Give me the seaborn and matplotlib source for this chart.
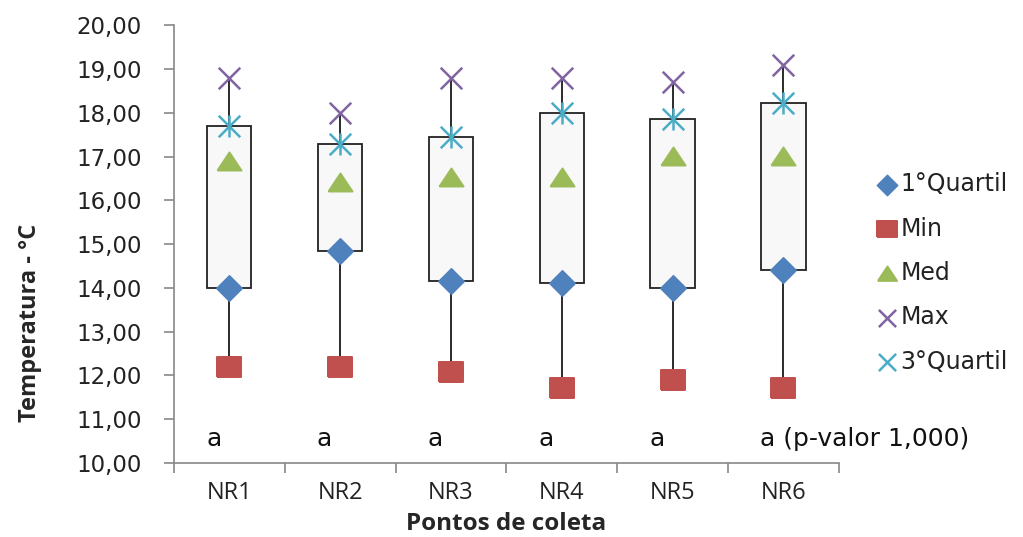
import matplotlib
matplotlib.use("Agg")
import matplotlib.pyplot as plt
import seaborn as sns
import numpy as np
import pandas as pd
from matplotlib.ticker import FixedLocator

# Sampling points and summary statistics of temperature (°C)
pontos = ["NR1", "NR2", "NR3", "NR4", "NR5", "NR6"]
quartil1 = [14.00, 14.85, 14.15, 14.10, 14.00, 14.40]
minimo = [12.20, 12.20, 12.08, 11.70, 11.90, 11.70]
mediana = [16.87, 16.40, 16.50, 16.50, 16.98, 17.00]
maximo = [18.80, 18.00, 18.80, 18.80, 18.70, 19.10]
quartil3 = [17.70, 17.28, 17.45, 18.00, 17.85, 18.22]
letras = ["a", "a", "a", "a", "a", "a (p-valor 1,000)"]
yticks = [10, 11, 12, 13, 14, 15, 16, 17, 18, 19, 20]
ytick_labels = ["10,00", "11,00", "12,00", "13,00", "14,00", "15,00",
                "16,00", "17,00", "18,00", "19,00", "20,00"]

sns.set_theme(style="white")
plt.rcParams["font.family"] = ["DejaVu Sans"]

fig = plt.figure(figsize=(10.23, 5.37), dpi=100)
ax = fig.add_axes([0.170, 0.138, 0.650, 0.815])

x = np.arange(len(pontos))
df = pd.DataFrame({"ponto": x, "q1": quartil1, "min": minimo, "med": mediana,
                   "max": maximo, "q3": quartil3})

# whiskers from min to max, boxes from Q1 to Q3
ax.vlines(df["ponto"], df["min"], df["max"], color="#1a1a1a", lw=1.3, zorder=1)
ax.bar(df["ponto"], df["q3"] - df["q1"], bottom=df["q1"], width=0.4,
       color="#f8f8f8", edgecolor="#222222", linewidth=1.3, zorder=2)

square = [(-1.25, -1), (1.25, -1), (1.25, 1), (-1.25, 1), (-1.25, -1)]
triangle = [(-1.2, -0.8), (1.2, -0.8), (0, 1.0), (-1.2, -0.8)]
series = [
    ("q1", "1°Quartil", "D", "#4F81BD", 170, None),
    ("min", "Min", square, "#C0504D", 320, None),
    ("med", "Med", triangle, "#9BBB59", 300, None),
    ("max", "Max", "x", "#8064A2", 240, 1.8),
    ("q3", "3°Quartil", "x", "#4BACC6", 240, 1.8),
]
for col, lab, mk, colr, size, lw in series:
    kw = {}
    if lw:
        kw["linewidth"] = lw
    sns.scatterplot(x=df["ponto"], y=df[col], marker=mk, color=colr, s=size,
                    label=lab, ax=ax, zorder=3, edgecolor=colr if lw is None else None,
                    **kw)
# vertical stroke that completes the asterisk marker of the third quartile
ax.scatter(df["ponto"], df["q3"], marker="|", s=240, color="#4BACC6",
           linewidths=1.8, zorder=3)

# group letters
for i, t in enumerate(letras):
    ax.text(i - 0.21, 10.55, t, ha="left", va="center", fontsize=18,
            color="#111111")

ax.set_xlim(-0.5, len(pontos) - 0.5)
ax.set_ylim(10, 20)
ax.set_yticks(yticks)
ax.set_yticklabels(ytick_labels, fontsize=16.5, color="#222222")
ax.set_xticks(x)
ax.set_xticklabels(pontos, fontsize=17, family="Open Sans", color="#222222")
ax.xaxis.set_minor_locator(FixedLocator(np.arange(-0.5, len(pontos), 1.0)))
ax.tick_params(axis="x", which="major", length=0, pad=13)
ax.tick_params(axis="x", which="minor", length=7, color="#888888", width=1.2,
               direction="out", bottom=True)
ax.tick_params(axis="y", length=7, color="#888888", width=1.2, direction="out",
               left=True, pad=16)

for s in ["top", "right"]:
    ax.spines[s].set_visible(False)
for s in ["left", "bottom"]:
    ax.spines[s].set_color("#888888")
    ax.spines[s].set_linewidth(1.2)

ax.set_xlabel("Pontos de coleta", fontsize=17.5, fontweight="bold",
              family="Open Sans", labelpad=5)
ax.set_ylabel("Temperatura - °C", fontsize=17, fontweight="bold",
              family="Open Sans")
ax.yaxis.set_label_coords(-0.198, 0.32)

handles, labels = ax.get_legend_handles_labels()
leg = ax.legend(handles, labels, loc="center left", bbox_to_anchor=(1.022, 0.434),
                frameon=False, fontsize=17, labelspacing=0.86, handletextpad=0.1,
                handlelength=1.0, markerscale=0.8)
for t in leg.get_texts():
    t.set_color("#222222")

fig.savefig("out.png", dpi=100, facecolor="white")
